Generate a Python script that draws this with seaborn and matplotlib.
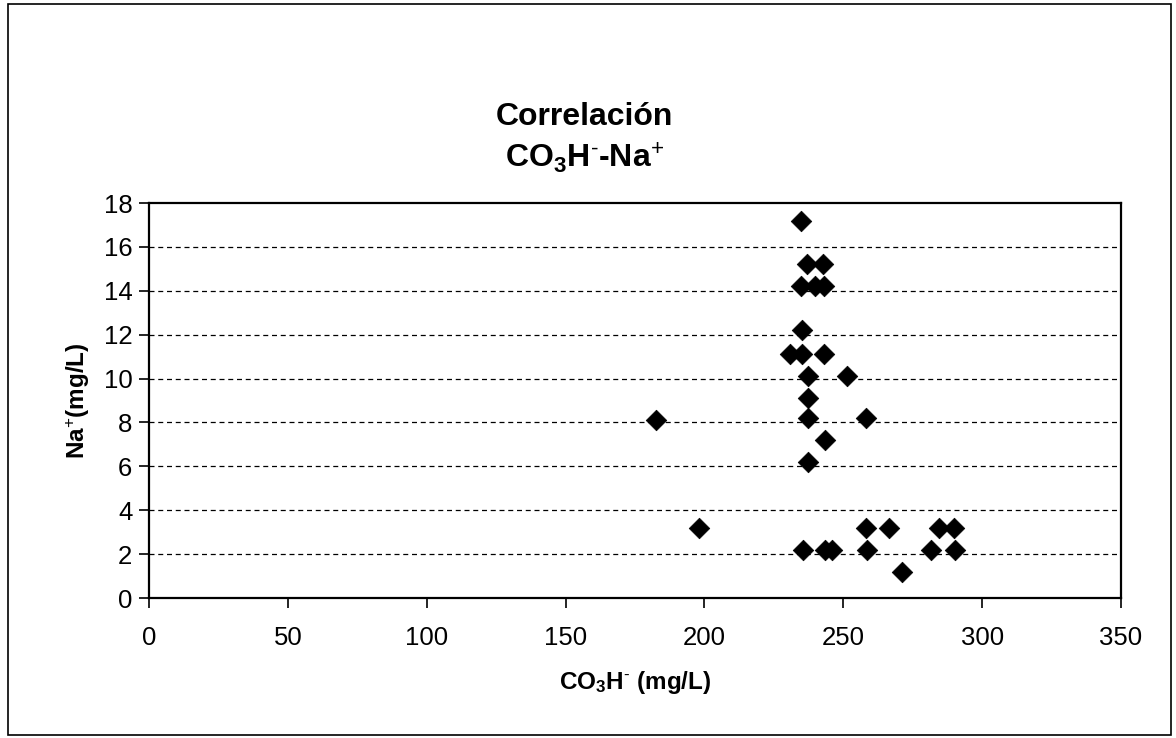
import numpy as np
import pandas as pd
import matplotlib
matplotlib.use("Agg")
import matplotlib.pyplot as plt
import seaborn as sns
from matplotlib.patches import Rectangle

# values
co3h = [182.5, 198, 234.8, 236.8, 242.8, 234.8, 239.8, 243.1, 235, 231,
        235, 243.2, 237.2, 251.2, 237.2, 237.4, 258.2, 243.4, 237.3, 235.6,
        243.4, 245.8, 258.4, 258.2, 266.6, 284.5, 289.8, 281.7, 290.1, 271]
na = [8.1, 3.2, 17.2, 15.2, 15.2, 14.2, 14.2, 14.2, 12.2, 11.1,
      11.1, 11.1, 10.1, 10.1, 9.1, 8.2, 8.2, 7.2, 6.2, 2.2,
      2.2, 2.2, 2.2, 3.2, 3.2, 3.2, 3.2, 2.2, 2.2, 1.2]
x_ticks = [0, 50, 100, 150, 200, 250, 300, 350]
y_ticks = [0, 2, 4, 6, 8, 10, 12, 14, 16, 18]

df = pd.DataFrame({'CO3H': co3h, 'Na': na})

sns.set_style("white")
plt.rcParams['font.family'] = ['Liberation Sans', 'DejaVu Sans']
plt.rcParams['mathtext.fontset'] = 'custom'
plt.rcParams['mathtext.rm'] = 'Liberation Sans'
plt.rcParams['mathtext.bf'] = 'Liberation Sans:bold'
plt.rcParams['text.color'] = 'black'
plt.rcParams['axes.labelcolor'] = 'black'
plt.rcParams['xtick.color'] = 'black'
plt.rcParams['ytick.color'] = 'black'

fig = plt.figure(figsize=(11.76, 7.38), dpi=100)
ax = fig.add_axes([0.1267, 0.1897, 0.8265, 0.5352])

sns.scatterplot(x='CO3H', y='Na', data=df, marker='D', s=110,
                color='black', edgecolor='black', linewidth=0.5, ax=ax)

ax.set_xlim(0, 350)
ax.set_ylim(0, 18)
ax.set_xticks(x_ticks)
ax.set_yticks(y_ticks)
ax.tick_params(axis='both', labelsize=18.5, length=7, width=1.2,
               direction='out', bottom=True, left=True,
               labelcolor='black', color='black')
ax.tick_params(axis='x', pad=13)
ax.tick_params(axis='y', pad=5)

# dashed horizontal gridlines
for v in y_ticks[1:-1]:
    ax.axhline(v, color='black', linestyle=(0, (4, 3)), linewidth=0.9, zorder=0)

for side in ['left', 'bottom', 'top', 'right']:
    ax.spines[side].set_visible(True)
    ax.spines[side].set_color('black')
    ax.spines[side].set_linewidth(1.6)

ax.set_xlabel(r'$\mathbf{CO_3H^{\text{-}}}$ (mg/L)', fontsize=17.5, fontweight='bold',
              labelpad=14, color='black')
ax.set_ylabel(r'$\mathbf{Na^{\text{+}}}$(mg/L)', fontsize=17.5, fontweight='bold',
              labelpad=8, color='black')

fig.text(0.497, 0.842, 'Correlación', ha='center', va='center',
         fontsize=23, fontweight='bold', color='black')
fig.text(0.497, 0.786, r'$\mathbf{CO_3H^{\text{-}}}$-$\mathbf{Na^{\text{+}}}$',
         ha='center', va='center', fontsize=23, fontweight='bold', color='black')

# outer chart frame
fig.patches.append(Rectangle((0.007, 0.004), 0.989, 0.99, transform=fig.transFigure,
                             fill=False, edgecolor='black', linewidth=1.2))

fig.savefig('out.png', dpi=100, facecolor='white')
